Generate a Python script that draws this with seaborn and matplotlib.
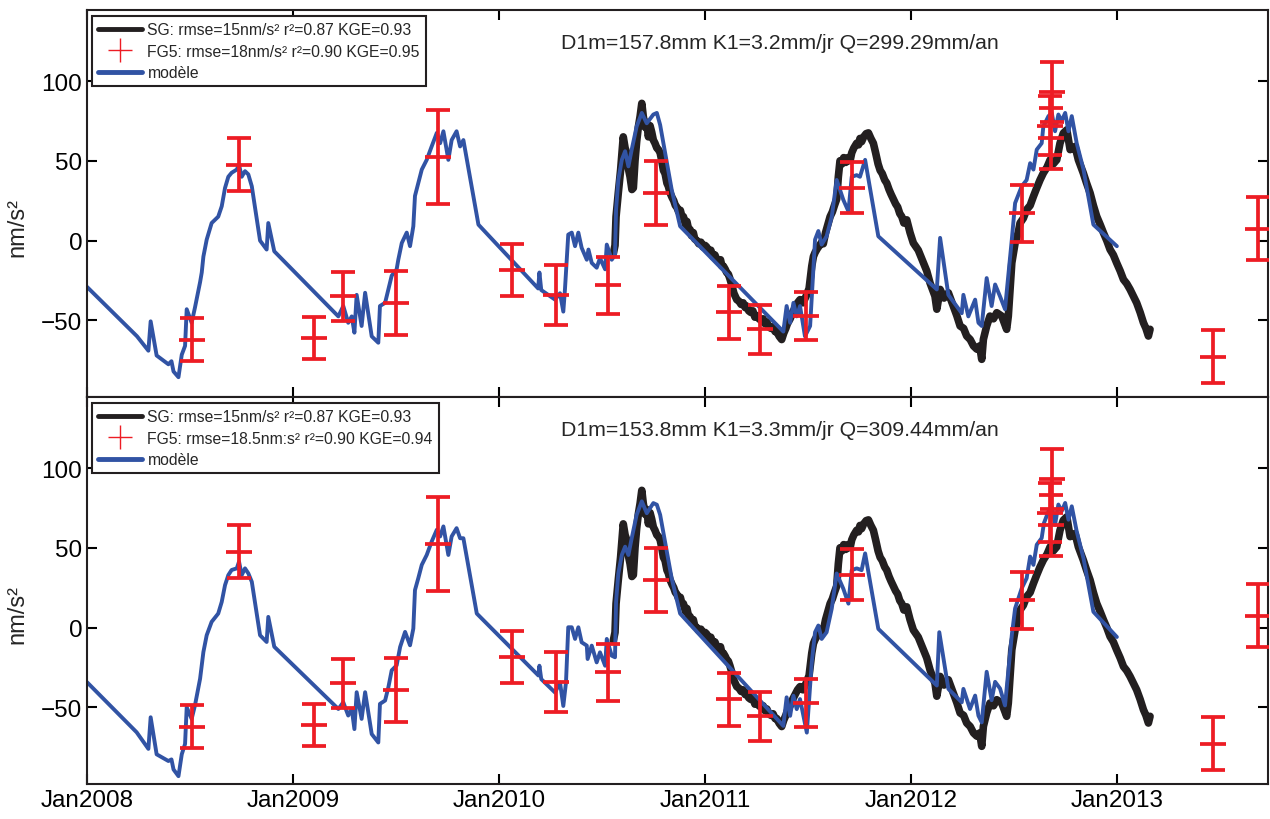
import matplotlib
matplotlib.use("Agg")
import matplotlib.pyplot as plt
import seaborn as sns
from matplotlib.lines import Line2D

# --- data (decimal years, nm/s²) ---
sg_pts = [
    (2010.555, -8), (2010.563, -3), (2010.568, 15), (2010.579, 30), (2010.590, 44),
    (2010.603, 65), (2010.612, 58), (2010.620, 55), (2010.628, 45), (2010.636, 40),
    (2010.645, 32), (2010.652, 33), (2010.660, 50), (2010.668, 62), (2010.676, 71),
    (2010.685, 78), (2010.693, 86), (2010.700, 78), (2010.709, 71), (2010.717, 74),
    (2010.725, 65), (2010.733, 72), (2010.741, 68), (2010.749, 63), (2010.757, 61),
    (2010.766, 58), (2010.774, 57), (2010.782, 55), (2010.790, 50), (2010.798, 44),
    (2010.806, 42), (2010.815, 36), (2010.822, 34), (2010.830, 30), (2010.840, 27),
    (2010.848, 25), (2010.856, 22), (2010.863, 21), (2010.872, 18), (2010.880, 19),
    (2010.888, 15), (2010.895, 15), (2010.905, 10), (2010.912, 12), (2010.920, 7),
    (2010.927, 7), (2010.935, 3), (2010.943, 5), (2010.950, 1), (2010.960, 0),
    (2010.970, -2), (2010.980, -1), (2010.990, -4), (2011.000, -3), (2011.008, -4),
    (2011.018, -7), (2011.028, -6), (2011.038, -10), (2011.048, -9), (2011.057, -12),
    (2011.066, -13), (2011.075, -12), (2011.082, -16), (2011.089, -16), (2011.098, -18),
    (2011.105, -20), (2011.113, -21), (2011.121, -24), (2011.130, -28), (2011.140, -33),
    (2011.147, -35), (2011.154, -37), (2011.165, -38), (2011.175, -40), (2011.185, -39),
    (2011.195, -42), (2011.202, -41), (2011.212, -44), (2011.222, -45), (2011.232, -44),
    (2011.242, -48), (2011.251, -47), (2011.262, -49), (2011.272, -50), (2011.282, -49),
    (2011.290, -52), (2011.300, -51), (2011.310, -54), (2011.320, -55), (2011.330, -54),
    (2011.340, -57), (2011.348, -57), (2011.360, -60), (2011.372, -62), (2011.382, -58),
    (2011.392, -55), (2011.400, -52), (2011.413, -49), (2011.425, -45), (2011.437, -42),
    (2011.449, -39), (2011.461, -37), (2011.475, -39), (2011.490, -35), (2011.505, -30),
    (2011.518, -16), (2011.526, -10), (2011.534, -7.5), (2011.545, -5), (2011.556, -3),
    (2011.566, -1), (2011.574, -2), (2011.585, 5), (2011.596, 10), (2011.607, 15),
    (2011.618, 18), (2011.628, 22), (2011.639, 26), (2011.647, 40), (2011.655, 50),
    (2011.664, 48), (2011.673, 52), (2011.683, 49), (2011.694, 52), (2011.704, 50),
    (2011.712, 55), (2011.722, 58), (2011.736, 61), (2011.745, 60), (2011.752, 64),
    (2011.760, 62), (2011.770, 65), (2011.782, 67), (2011.793, 67.5), (2011.805, 64),
    (2011.817, 61), (2011.828, 55), (2011.840, 48), (2011.850, 44), (2011.860, 42),
    (2011.872, 38), (2011.882, 36), (2011.893, 32), (2011.903, 29), (2011.914, 26),
    (2011.925, 23), (2011.935, 21), (2011.945, 17), (2011.955, 15), (2011.965, 11),
    (2011.979, 13), (2011.995, 5), (2012.011, -1.5), (2012.035, -6), (2012.060, -14),
    (2012.076, -19), (2012.092, -26.5), (2012.116, -34.8), (2012.125, -43),
    (2012.141, -30.6), (2012.160, -36), (2012.181, -32.7), (2012.205, -41),
    (2012.222, -47), (2012.238, -53.5), (2012.255, -55), (2012.270, -59.8),
    (2012.287, -62), (2012.303, -66), (2012.319, -68), (2012.333, -66),
    (2012.343, -74.4), (2012.351, -61.9), (2012.367, -53.5), (2012.383, -47.3),
    (2012.400, -49), (2012.416, -45.2), (2012.440, -47.3), (2012.464, -55.6),
    (2012.472, -47.3), (2012.489, -14), (2012.505, -1.5), (2012.520, 5),
    (2012.529, 11), (2012.545, 14), (2012.561, 19.4), (2012.578, 22), (2012.594, 27.7),
    (2012.610, 33), (2012.626, 38), (2012.642, 42.3), (2012.660, 46), (2012.675, 50.6),
    (2012.690, 48), (2012.707, 50.6), (2012.723, 61), (2012.739, 67.3), (2012.756, 69.4),
    (2012.772, 57), (2012.796, 59), (2012.812, 50.6), (2012.836, 42.3), (2012.852, 36),
    (2012.869, 29.8), (2012.885, 22), (2012.901, 15.2), (2012.918, 10), (2012.934, 4.8),
    (2012.950, 0), (2012.966, -5.6), (2012.982, -9), (2012.998, -14), (2013.015, -19),
    (2013.031, -24.4), (2013.047, -27), (2013.063, -30.6), (2013.080, -35),
    (2013.095, -39), (2013.112, -45), (2013.128, -51.5), (2013.140, -55),
    (2013.152, -59.8), (2013.160, -55.6),
]

model_top_pts = [
    (2008.000, -29), (2008.243, -60), (2008.298, -69), (2008.309, -50.6), (2008.338, -72),
    (2008.395, -77.5), (2008.410, -75.6), (2008.420, -82), (2008.444, -85.6), (2008.460, -71.5),
    (2008.476, -66), (2008.484, -43), (2008.508, -51.5), (2008.524, -42), (2008.549, -26),
    (2008.557, -20), (2008.565, -10), (2008.581, 0.6), (2008.605, 11), (2008.637, 15),
    (2008.654, 21.5), (2008.670, 33), (2008.686, 40), (2008.702, 42.5), (2008.727, 44.5),
    (2008.738, 47.5), (2008.751, 40), (2008.767, 43.5), (2008.783, 41.5), (2008.800, 34),
    (2008.840, 0), (2008.872, -5.6), (2008.880, 11), (2008.909, -6.7), (2009.220, -47.5),
    (2009.244, -41), (2009.268, -51.5), (2009.285, -47.5), (2009.298, -57.7), (2009.309, -34),
    (2009.333, -53.5), (2009.350, -32.7), (2009.382, -60), (2009.414, -64), (2009.422, -41),
    (2009.447, -39), (2009.463, -30.6), (2009.479, -22), (2009.503, -18), (2009.511, -12),
    (2009.528, -1.5), (2009.552, 5), (2009.568, -3.5), (2009.584, 9), (2009.592, 28),
    (2009.608, 36), (2009.625, 44.5), (2009.649, 50.6), (2009.673, 59), (2009.698, 67.5),
    (2009.714, 61), (2009.730, 68.5), (2009.754, 50.6), (2009.770, 63), (2009.794, 68.5),
    (2009.811, 59), (2009.827, 63), (2009.900, 10), (2010.190, -30), (2010.196, -20),
    (2010.205, -31), (2010.272, -37), (2010.296, -33), (2010.312, -44.5), (2010.320, -30.6),
    (2010.336, 3.75), (2010.353, 5), (2010.369, -3.5), (2010.385, 5), (2010.401, -4.5),
    (2010.426, -12), (2010.434, -5.6), (2010.450, -14), (2010.474, -17), (2010.490, -11),
    (2010.515, -18), (2010.523, -2.5), (2010.547, -12), (2010.563, -9), (2010.568, 19.4),
    (2010.579, 38), (2010.596, 50.6), (2010.612, 56), (2010.628, 46.5), (2010.644, 57),
    (2010.668, 71.5), (2010.693, 80), (2010.717, 73.5), (2010.749, 79), (2010.766, 80),
    (2010.782, 72.5), (2010.838, 32), (2010.879, 9), (2011.380, -57), (2011.396, -41),
    (2011.413, -51.5), (2011.429, -39), (2011.445, -47.5), (2011.461, -41), (2011.485, -60),
    (2011.510, -53.5), (2011.534, 0.6), (2011.550, 6), (2011.566, -2.5), (2011.590, 2.7),
    (2011.615, 15), (2011.639, 38), (2011.671, 25.6), (2011.696, 18.3), (2011.712, 40),
    (2011.736, 41), (2011.752, 40), (2011.777, 50.6), (2011.841, 2.7), (2012.125, -30.6),
    (2012.141, 1.7), (2012.181, -34), (2012.246, -45.5), (2012.254, -34), (2012.278, -47.5),
    (2012.311, -37), (2012.327, -51.5), (2012.343, -53.5), (2012.367, -23.5), (2012.391, -41),
    (2012.408, -27.5), (2012.432, -35), (2012.456, -43), (2012.472, -22), (2012.489, 0.6),
    (2012.505, 23.5), (2012.537, 34), (2012.561, 38), (2012.578, 48.5), (2012.594, 44.5),
    (2012.610, 57), (2012.634, 61), (2012.642, 71.5), (2012.667, 78), (2012.683, 80),
    (2012.699, 68.5), (2012.715, 79), (2012.731, 75), (2012.748, 80), (2012.764, 68.5),
    (2012.780, 78), (2012.804, 61), (2012.837, 44.5), (2012.885, 10), (2012.999, -3.5),
]

model_bot_pts = [
    (2008.000, -34.2), (2008.241, -65.6), (2008.298, -76), (2008.309, -56.2), (2008.338, -79.4),
    (2008.395, -83.6), (2008.410, -82.6), (2008.420, -88.9), (2008.444, -93.1), (2008.460, -79.4),
    (2008.476, -72.9), (2008.484, -49.9), (2008.508, -57.2), (2008.524, -48.8), (2008.549, -32),
    (2008.565, -15.3), (2008.581, -4.8), (2008.605, 3.6), (2008.637, 8.8), (2008.654, 16.1),
    (2008.670, 26.6), (2008.686, 32.9), (2008.702, 36.1), (2008.727, 37.1), (2008.738, 41.3),
    (2008.751, 32.9), (2008.767, 37.1), (2008.783, 34), (2008.800, 28.7), (2008.840, -4.8),
    (2008.872, -9), (2008.880, 6.7), (2008.909, -12), (2009.220, -51), (2009.244, -46.8),
    (2009.268, -55.1), (2009.285, -51), (2009.298, -63.6), (2009.309, -40.5), (2009.333, -57.2),
    (2009.350, -40.5), (2009.382, -66.7), (2009.414, -72), (2009.422, -47.8), (2009.447, -45.7),
    (2009.463, -37.3), (2009.479, -26.8), (2009.503, -23.7), (2009.520, -12.1), (2009.544, -2.7),
    (2009.568, -11.1), (2009.584, -0.6), (2009.592, 23.5), (2009.608, 30.9), (2009.625, 39.3),
    (2009.649, 45.5), (2009.673, 53.9), (2009.698, 61.3), (2009.714, 57.1), (2009.730, 63.4),
    (2009.754, 45.5), (2009.770, 57.1), (2009.794, 62.3), (2009.811, 56), (2009.827, 56),
    (2009.892, 8.8), (2010.191, -30), (2010.196, -23.9), (2010.205, -32.3), (2010.272, -40.7),
    (2010.296, -34.4), (2010.312, -49.1), (2010.325, -34.4), (2010.336, 0.2), (2010.353, 0.2),
    (2010.369, -7.1), (2010.385, 0.2), (2010.401, -9.2), (2010.426, -11.3), (2010.430, -19.7),
    (2010.450, -11.3), (2010.474, -21.8), (2010.490, -15.5), (2010.515, -23.9), (2010.523, -7.1),
    (2010.547, -17.6), (2010.563, -18.6), (2010.568, 16), (2010.579, 33.9), (2010.596, 45.5),
    (2010.612, 50.7), (2010.628, 45.5), (2010.644, 56), (2010.668, 70.7), (2010.693, 79.1),
    (2010.717, 71.7), (2010.749, 78), (2010.766, 77), (2010.782, 70.7), (2010.838, 30.9),
    (2010.879, 8.8), (2011.380, -61.6), (2011.396, -43.7), (2011.413, -55.3), (2011.429, -42.7),
    (2011.445, -51.1), (2011.461, -44.8), (2011.494, -65.8), (2011.518, -21.8), (2011.534, -2.9),
    (2011.550, 1.3), (2011.566, -7.1), (2011.590, -2.9), (2011.615, 11.9), (2011.639, 33.9),
    (2011.671, 24.4), (2011.696, 15), (2011.712, 36), (2011.736, 37.1), (2011.760, 36),
    (2011.777, 46.5), (2011.841, -0.8), (2012.125, -36.3), (2012.137, -2.9), (2012.181, -38.4),
    (2012.246, -46.8), (2012.254, -38.4), (2012.286, -51), (2012.311, -42.6), (2012.327, -55.2),
    (2012.343, -59.4), (2012.367, -27.7), (2012.391, -45.5), (2012.408, -34), (2012.432, -38.2),
    (2012.456, -48.8), (2012.472, -27.7), (2012.489, -4.7), (2012.505, 12), (2012.537, 24.6),
    (2012.561, 30.9), (2012.578, 44.5), (2012.594, 39.3), (2012.610, 51.9), (2012.634, 56.1),
    (2012.645, 65.5), (2012.667, 72.9), (2012.683, 76), (2012.699, 64.5), (2012.715, 77.1),
    (2012.731, 72.9), (2012.748, 78.1), (2012.764, 67.6), (2012.780, 76), (2012.804, 60.3),
    (2012.837, 43.4), (2012.885, 9.9), (2012.999, -5.9),
]

# FG5 absolute gravity: date, value, error
fg5_year = [2008.510, 2008.738, 2009.100, 2009.243, 2009.500, 2009.704, 2010.063,
            2010.277, 2010.529, 2010.762, 2011.117, 2011.267, 2011.490, 2011.714,
            2012.539, 2012.685, 2012.672, 2012.680, 2013.466, 2013.684]
fg5_val = [-62, 47.5, -61, -35, -39, 52.5, -18.5, -34, -28, 30, -45, -55.5, -47, 33,
           17, 93, 72, 64, -72.7, 7.5]
fg5_err = [13.5, 16.7, 13, 15.6, 20, 29.5, 16.5, 18.7, 18, 20, 16.5, 15.3, 15, 16,
           18, 19, 18.5, 19, 16.7, 19.6]

legend_top = ["SG: rmse=15nm/s² r²=0.87 KGE=0.93",
              "FG5: rmse=18nm/s² r²=0.90 KGE=0.95", "modèle"]
legend_bot = ["SG: rmse=15nm/s² r²=0.87 KGE=0.93",
              "FG5: rmse=18.5nm:s² r²=0.90 KGE=0.94", "modèle"]
params_top = "D1m=157.8mm K1=3.2mm/jr Q=299.29mm/an"
params_bot = "D1m=153.8mm K1=3.3mm/jr Q=309.44mm/an"

year_ticks = [2008, 2009, 2010, 2011, 2012, 2013]
year_labels = ["Jan2008", "Jan2009", "Jan2010", "Jan2011", "Jan2012", "Jan2013"]

SG_COL = "#231f20"
MOD_COL = "#3153a4"
FG_COL = "#ed1c24"

sns.set_theme(style="ticks")
plt.rcParams["font.family"] = ["Liberation Sans", "DejaVu Sans"]

fig, axes = plt.subplots(2, 1, figsize=(12.7, 8.2), dpi=100, sharex=True)
fig.subplots_adjust(left=0.0685, right=0.9985, top=0.9866, bottom=0.0427, hspace=0)


def draw_panel(ax, model_pts, labels, params):
    sx, sy = zip(*sg_pts)
    mx, my = zip(*model_pts)
    sns.lineplot(x=list(sx), y=list(sy), ax=ax, color=SG_COL, lw=5.5,
                 sort=False, estimator=None, legend=False)
    sns.lineplot(x=list(mx), y=list(my), ax=ax, color=MOD_COL, lw=2.8,
                 sort=False, estimator=None, legend=False)
    ax.errorbar(fg5_year, fg5_val, yerr=fg5_err, fmt="_", color=FG_COL,
                ecolor=FG_COL, elinewidth=2.7, capsize=8.5, capthick=2.7,
                markersize=19, markeredgewidth=2.7, zorder=5)

    ax.set_xlim(2008.0, 2013.733)
    ax.set_ylim(-98, 144.5)
    ax.set_yticks([-50, 0, 50, 100])
    ax.set_xticks(year_ticks)
    ax.set_ylabel("nm/s²", fontsize=17)
    ax.yaxis.set_label_coords(-0.05, 0.44)
    ax.tick_params(direction="in", length=7, width=1.5, labelsize=17.5,
                   top=True, right=True, colors="black")
    for sp in ax.spines.values():
        sp.set_linewidth(1.5)
        sp.set_color("#231f20")

    handles = [
        Line2D([0], [0], color=SG_COL, lw=3.5),
        Line2D([0], [0], color=FG_COL, marker="+", markersize=17,
               markeredgewidth=1, linestyle="none"),
        Line2D([0], [0], color=MOD_COL, lw=3.5),
    ]
    leg = ax.legend(handles, labels, loc="upper left", bbox_to_anchor=(0.004, 0.984),
                    borderaxespad=0, fontsize=11.3, frameon=True, fancybox=False,
                    framealpha=1, edgecolor="#231f20", handlelength=2.8,
                    handletextpad=0.35, labelspacing=0.4, borderpad=0.4)
    leg.get_frame().set_linewidth(1.5)

    ax.text(0.587, 0.915, params, transform=ax.transAxes, ha="center",
            va="center", fontsize=15.3)


draw_panel(axes[0], model_top_pts, legend_top, params_top)
draw_panel(axes[1], model_bot_pts, legend_bot, params_bot)
axes[0].tick_params(labelbottom=False)
axes[1].set_xticklabels(year_labels)

fig.savefig("out.png", dpi=100)
